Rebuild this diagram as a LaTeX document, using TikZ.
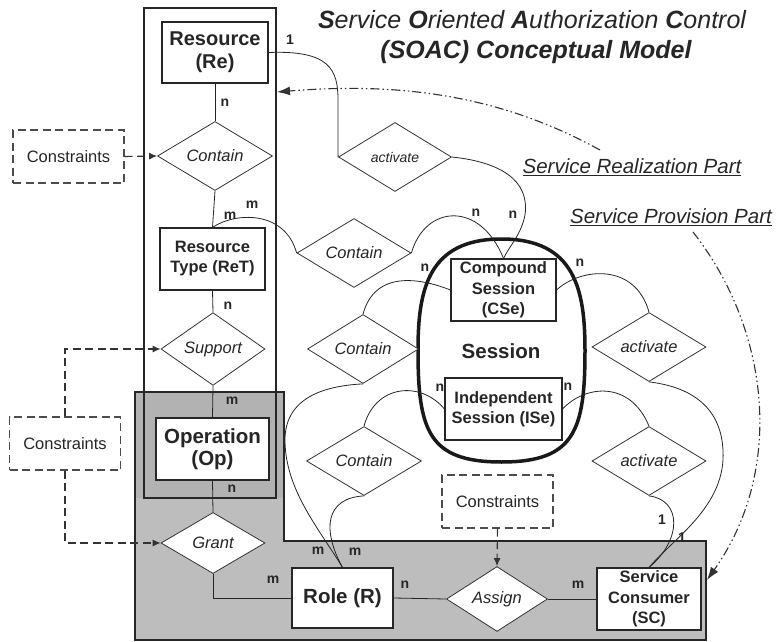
\documentclass[tikz,border=0pt]{standalone}
\usepackage{fontspec}
\setmainfont{Liberation Sans}
\usetikzlibrary{shapes.geometric,arrows.meta}

\begin{document}
\begin{tikzpicture}[x=1pt,y=-1pt,
  every node/.style={text=black!85},
  entity/.style={draw=black!85, line width=1.1pt, fill=white, align=center, inner sep=0pt},
  rel/.style={draw=black!80, diamond, line width=0.8pt, fill=white, inner sep=0pt,
              font=\itshape\fontsize{16.5}{18}\selectfont},
  cons/.style={draw=black!70, dash pattern=on 8pt off 4.5pt, line width=1.1pt, fill=white,
               inner sep=0pt, minimum width=111pt, minimum height=53pt,
               font=\fontsize{16.5}{18}\selectfont},
  card/.style={font=\bfseries\fontsize{14}{16}\selectfont, inner sep=0pt},
  link/.style={draw=black!85, line width=0.8pt},
  dlink/.style={draw=black!80, dash pattern=on 8pt off 4.5pt, line width=1.1pt,
                -{Latex[length=8pt,width=7pt]}},
  part/.style={draw=black!80, dash pattern=on 9pt off 3pt on 1.5pt off 3pt on 1.5pt off 3pt,
               line width=1.1pt, -{Latex[length=13pt,width=9pt]}},
  heading/.style={font=\itshape\fontsize{25}{28}\selectfont, inner sep=0pt},
  partlabel/.style={font=\itshape\fontsize{20.5}{22}\selectfont, inner sep=0pt}
]
\useasboundingbox (0,0) rectangle (777,642);

% grey authorization area (L-shaped) and the resource column
\fill[black!26] (135,392) -- (284,392) -- (284,541) -- (706,541) -- (706,640) -- (135,640) -- cycle;
\fill[black!30] (135,392) rectangle (284,498);
\draw[line width=2pt, black!85] (135,392) -- (284,392) -- (284,541) -- (706,541) -- (706,640) -- (135,640) -- cycle;
\draw[line width=2pt, black!85] (144,8) rectangle (276,498);

% title
\node[heading] (t1) at (532,20) {\textbf{S}ervice \textbf{O}riented \textbf{A}uthorization \textbf{C}ontrol};
\node[heading, font=\bfseries\itshape\fontsize{25}{28}\selectfont] (t2) at (536,52) {(SOAC) Conceptual Model};

% part labels
\node[partlabel] (prl) at (632,167) {\underline{Service Realization Part}};
\node[partlabel] (ppl) at (671,217) {\underline{Service Provision Part}};

% session container
\draw[line width=3.5pt, black!90] (501.5,239) .. controls (575,239) and (585,290) .. (585,350)
  .. controls (585,430) and (575,462) .. (501.5,462)
  .. controls (428,462) and (418,430) .. (418,350)
  .. controls (418,290) and (428,239) .. (501.5,239) -- cycle;
\node[font=\bfseries\fontsize{20.5}{23}\selectfont, inner sep=0pt] (sess) at (501,351) {Session};

% entities
\node[entity, minimum width=106pt, minimum height=61pt, font=\bfseries\fontsize{20}{23}\selectfont] (re) at (215,52.5) {Resource\\(Re)};
\node[entity, minimum width=105pt, minimum height=62pt, font=\bfseries\fontsize{16.5}{20}\selectfont] (ret) at (212.5,259) {Resource\\Type (ReT)};
\node[entity, minimum width=113pt, minimum height=62pt, font=\bfseries\fontsize{20.5}{22}\selectfont] (op) at (212.5,449) {Operation\\(Op)};
\node[entity, minimum width=105pt, minimum height=62pt, font=\bfseries\fontsize{16.5}{20.5}\selectfont] (cse) at (503.5,290) {Compound\\Session\\(CSe)};
\node[entity, minimum width=117pt, minimum height=62pt, font=\bfseries\fontsize{16.5}{20}\selectfont] (ise) at (503.5,409) {Independent\\Session (ISe)};
\node[entity, minimum width=101pt, minimum height=60pt, font=\bfseries\fontsize{20.5}{23}\selectfont] (role) at (342.5,598) {Role (R)};
\node[entity, minimum width=104pt, minimum height=62pt, font=\bfseries\fontsize{16.5}{20.5}\selectfont] (sc) at (649,599) {Service\\Consumer\\(SC)};

% relationships
\node[rel, minimum width=115pt, minimum height=67pt] (contA) at (215,156) {Contain};
\node[rel, minimum width=114pt, minimum height=68pt] (contB) at (354,253) {Contain};
\node[rel, minimum width=111pt, minimum height=68pt] (contC) at (363,349) {Contain};
\node[rel, minimum width=115pt, minimum height=68pt] (contD) at (364,461) {Contain};
\node[rel, minimum width=113pt, minimum height=69pt, font=\itshape\fontsize{14}{16}\selectfont] (actA) at (395,157) {activate};
\node[rel, minimum width=114pt, minimum height=67pt] (actB) at (649,347) {activate};
\node[rel, minimum width=114pt, minimum height=68pt] (actC) at (649,461) {activate};
\node[rel, minimum width=104pt, minimum height=61pt] (sup) at (213,349) {Support};
\node[rel, minimum width=104pt, minimum height=61pt] (grant) at (213,543) {Grant};
\node[rel, minimum width=101pt, minimum height=62pt] (assign) at (497,599) {Assign};

% constraints
\node[cons] (consA) at (68.5,156.5) {Constraints};
\node[cons] (consB) at (65,443.5) {Constraints};
\node[cons] (consC) at (497.5,501.5) {Constraints};

% straight links
\draw[link] (re.south) -- (contA.north);
\draw[link] (contA.south) -- (ret.north);
\draw[link] (ret.south) -- (sup.north);
\draw[link] (sup.south) -- (op.north);
\draw[link] (op.south) -- (grant.north);
\draw[link] (grant.south) |- (role.west);
\draw[link] (role.east) -- (assign.west);
\draw[link] (assign.east) -- (sc.west);

% curved links
\draw[link] (re.east) .. controls (330,50) and (338,70) .. (338,100) -- (actA.west);
\draw[link] (actA.east) .. controls (500,162) and (530,180) .. (525,215) .. controls (521,235) and (510,245) .. (cse.north);
\draw[link] (contB.east) .. controls (425,205) and (480,200) .. (cse.north);
\draw[link] (ret.north) .. controls (235,212) and (285,210) .. (contB.west);
\draw[link] (cse.west) .. controls (420,278) and (375,270) .. (contC.north);
\draw[link] (contC.south) .. controls (320,386) and (285,400) .. (285,440) .. controls (285,490) and (320,530) .. (role.north);
\draw[link] (contD.north) .. controls (375,385) and (420,380) .. (ise.west);
\draw[link] (contD.south) .. controls (325,498) and (322,530) .. (role.north);
\draw[link] (cse.east) .. controls (580,268) and (635,262) .. (actB.north);
\draw[link] (actB.south) .. controls (700,388) and (725,415) .. (723,460) .. controls (720,510) and (672,540) .. (sc.north);
\draw[link] (ise.east) .. controls (585,385) and (630,380) .. (actC.north);
\draw[link] (actC.south) .. controls (682,500) and (682,540) .. (sc.north);

% constraint arrows
\draw[dlink] (consA.east) -- (contA.west);
\draw[dlink] (consB.north) |- (sup.west);
\draw[dlink] (consB.south) |- (grant.west);
\draw[dlink] (consC.south) -- (assign.north);

% part arrows
\coordinate (realStart) at (600,150);
\coordinate (realTip) at (277,92);
\coordinate (provStart) at (693,232);
\coordinate (provTip) at (707,580);
\draw[part] (realStart) .. controls (500,95) and (400,82) .. (realTip);
\draw[part] (provStart) .. controls (770,330) and (785,470) .. (provTip);

% cardinalities
\node[card] (c1) at (290,40) {1};
\node[card] (c2) at (225,103) {n};
\node[card] (c3) at (230,216) {m};
\node[card] (c4) at (252,205) {m};
\node[card] (c5) at (476,213) {n};
\node[card] (c6) at (513,215) {n};
\node[card] (c7) at (425,268) {n};
\node[card] (c8) at (580,263) {n};
\node[card] (c9) at (228,306) {n};
\node[card] (c10) at (440,388) {n};
\node[card] (c11) at (568,387) {n};
\node[card] (c12) at (232,401) {m};
\node[card] (c13) at (232,489) {n};
\node[card] (c14) at (318,551) {m};
\node[card] (c15) at (355,552) {m};
\node[card] (c16) at (273,580) {m};
\node[card] (c17) at (405,585) {n};
\node[card] (c18) at (578,585) {m};
\node[card] (c19) at (662,520) {1};
\node[card] (c20) at (682,538) {1};
\end{tikzpicture}
\end{document}
